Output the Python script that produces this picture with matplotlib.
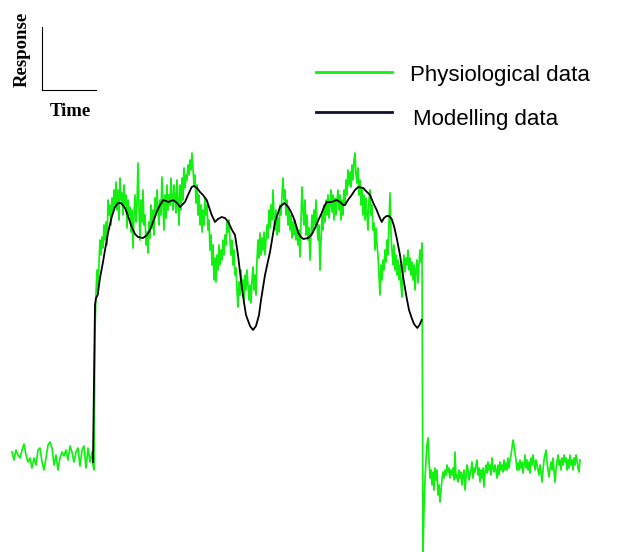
import numpy as np
import matplotlib
matplotlib.use("Agg")
import matplotlib.pyplot as plt

W, H = 621, 552
BASE = 455  # reading offset: raw readings are depth below the top, response = BASE - raw

# physiological recording, three sampled segments (time in ms)
pre_t = np.arange(12, 93, 2)
pre_raw = [452, 460, 450, 455, 458, 450, 444, 455, 462, 458, 468, 458, 465, 450, 448, 462, 470,
           458, 445, 442, 448, 465, 455, 470, 458, 452, 456, 450, 460, 446, 452, 462, 452, 448,
           466, 450, 446, 468, 448, 462, 452]

stim_t = np.arange(93, 424)
stim_raw = [465, 470, 330, 293, 270, 290, 262, 240, 255, 237, 248, 225, 240, 222, 245, 200, 215,
            205, 225, 198, 212, 190, 205, 182, 210, 190, 220, 178, 200, 193, 215, 185, 205, 195,
            228, 200, 215, 207, 232, 210, 248, 215, 195, 222, 205, 163, 208, 240, 200, 222, 190,
            225, 215, 245, 232, 253, 222, 238, 205, 228, 210, 235, 198, 215, 190, 210, 225, 200,
            215, 177, 205, 230, 195, 218, 185, 210, 195, 205, 178, 198, 210, 185, 198, 213, 180,
            200, 225, 185, 210, 178, 200, 168, 188, 175, 180, 165, 175, 160, 170, 153, 168, 185,
            175, 203, 185, 215, 195, 225, 205, 232, 210, 225, 198, 215, 205, 230, 220, 250, 235,
            265, 245, 280, 258, 282, 255, 270, 245, 265, 250, 260, 240, 255, 235, 245, 222, 232,
            220, 240, 255, 240, 265, 250, 275, 268, 290, 307, 282, 295, 270, 290, 280, 300, 275,
            290, 270, 285, 300, 285, 303, 280, 267, 290, 275, 295, 260, 240, 258, 233, 255, 238,
            250, 232, 255, 240, 225, 238, 210, 228, 205, 220, 190, 215, 230, 210, 235, 218, 232,
            205, 215, 195, 178, 200, 190, 215, 200, 225, 210, 230, 215, 238, 222, 235, 220, 240,
            228, 245, 230, 257, 220, 187, 210, 225, 200, 235, 215, 240, 228, 260, 235, 215, 232,
            210, 225, 200, 222, 240, 225, 270, 240, 215, 230, 205, 222, 200, 215, 195, 218, 205,
            190, 212, 195, 220, 198, 215, 200, 190, 210, 195, 220, 200, 215, 190, 205, 180, 195,
            170, 185, 172, 187, 165, 180, 160, 153, 175, 183, 168, 195, 180, 205, 188, 215, 195,
            220, 198, 215, 230, 200, 190, 215, 205, 230, 223, 250, 228, 245, 255, 275, 295, 265,
            280, 260, 270, 250, 262, 240, 255, 225, 193, 235, 250, 265, 245, 270, 255, 275, 260,
            280, 265, 285, 297, 268, 255, 272, 258, 265, 250, 270, 258, 275, 262, 280, 265, 290,
            270, 260, 283, 265, 250, 262, 243, 552]

post_t = np.arange(424, 581)
post_raw = [510, 480, 460, 445, 438, 460, 478, 470, 485, 472, 490, 468, 480, 470, 495, 485, 502,
            490, 480, 472, 478, 470, 475, 465, 472, 468, 478, 470, 475, 468, 480, 452, 478, 475,
            482, 470, 478, 472, 485, 475, 470, 490, 478, 465, 470, 480, 475, 470, 462, 478, 468,
            472, 465, 460, 475, 468, 482, 470, 478, 468, 487, 472, 465, 473, 462, 470, 465, 475,
            458, 468, 472, 465, 470, 478, 465, 475, 462, 470, 465, 472, 460, 470, 463, 470, 458,
            468, 460, 455, 448, 440, 445, 453, 460, 470, 463, 470, 460, 468, 462, 473, 465, 455,
            468, 460, 470, 462, 473, 458, 465, 455, 462, 470, 460, 465, 470, 475, 465, 472, 482,
            470, 460, 455, 450, 462, 470, 477, 468, 462, 470, 458, 470, 482, 470, 462, 455, 465,
            460, 470, 458, 465, 455, 462, 458, 470, 460, 468, 455, 465, 460, 470, 458, 465, 455,
            460, 468, 472, 460]

# model output
model_t = [93, 94, 95, 96, 97.7, 100, 103, 105, 108, 111.7, 115, 118, 121, 125, 128, 131.7, 135,
           138, 143, 147, 150, 153, 156.7, 160, 163.3, 168.3, 173.3, 177, 180, 185, 188, 191.7,
           194, 197, 200, 203, 206.7, 209, 211.7, 215, 218, 221.7, 225, 228.3, 232, 235, 238,
           240, 243, 246, 250, 253, 256, 259, 261, 265, 270, 275, 280, 284.3, 288.3, 291, 293.3,
           296, 298.3, 301, 303.3, 308.3, 312, 315, 318, 321.7, 324, 326.7, 331.7, 336.7, 340,
           343.3, 345, 348, 351.7, 355, 358.3, 363.3, 366, 370, 373.3, 376.7, 379, 381.7, 384,
           386.7, 389, 391.7, 394, 396.7, 400, 403.3, 406.7, 409, 411.7, 414, 417.3, 419.5, 421.7]
model_raw = [462, 380, 305, 298, 295, 278, 262, 250, 233, 217, 207, 203, 203, 208, 216, 227, 234,
             237, 238, 235, 230, 222, 212, 205, 200, 202, 200, 203, 207, 202, 195, 187, 186, 188,
             192, 195, 200, 207, 215, 222, 219, 217, 218, 222, 230, 235, 255, 272, 296, 315, 326,
             330, 326, 315, 300, 275, 252, 222, 207, 203, 207, 212, 217, 225, 233, 237, 239, 238,
             234, 228, 221, 213, 207, 202, 202, 200, 202, 205, 205, 200, 195, 190, 187, 188, 191,
             195, 203, 210, 216, 222, 218, 216, 216, 219, 226, 238, 255, 278, 298, 310, 318, 324,
             328, 325, 320]

phys_t = np.concatenate([pre_t, stim_t, post_t])
phys = BASE - np.array(pre_raw + stim_raw + post_raw)
model = BASE - np.array(model_raw)

labels = ["Physiological data", "Modelling data"]
green = "#11f011"
navy = "#111130"

fig = plt.figure(figsize=(W / 100, H / 100), dpi=100)
ax = fig.add_axes([0, 0, 1, 1])
ax.plot(phys_t, phys, color=green, lw=1.25, zorder=2)
ax.plot(model_t, model, color="black", lw=1.3, zorder=3)
ax.set_xlim(0, W)
ax.set_ylim(BASE - H, BASE)
ax.axis("off")

# legend drawn by hand
for line_y, text_y, text_x, lab, col in zip([72, 112], [75, 120], [410, 413], labels, [green, navy]):
    ax.plot([316, 392], [BASE - line_y, BASE - line_y], color=col, lw=2, zorder=4)
    ax.text(text_x, BASE - text_y, lab, fontsize=16, family="Liberation Sans",
            va="center", ha="left")

# scale bar
sb = fig.add_axes([42 / W, 1 - 90 / H, 54 / W, 63 / H])
for s in ["top", "right"]:
    sb.spines[s].set_visible(False)
sb.set_xticks([])
sb.set_yticks([])
sb.patch.set_alpha(0)
fig.text(70 / W, 1 - 111 / H, "Time", family="Liberation Serif", weight="bold", fontsize=13.5,
         ha="center", va="center")
fig.text(22 / W, 1 - 49 / H, "Response", family="Liberation Serif", weight="bold", fontsize=13.5,
         rotation=90, ha="center", va="center")

fig.savefig("out.png", dpi=100)
